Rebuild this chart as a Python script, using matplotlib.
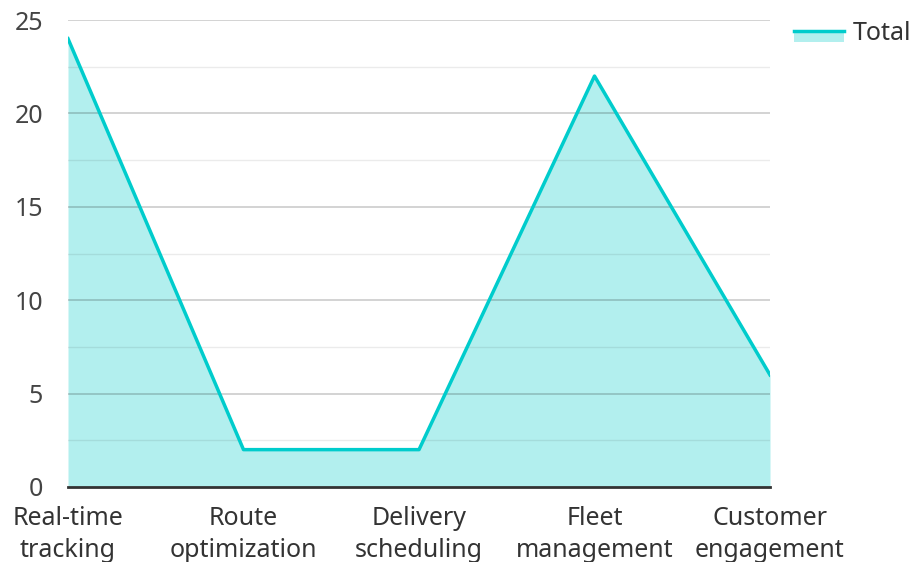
import matplotlib
matplotlib.use("Agg")
import matplotlib.pyplot as plt
from matplotlib.patches import Rectangle
from matplotlib.lines import Line2D
from matplotlib.legend_handler import HandlerBase

categories = ["Real-time\ntracking", "Route\noptimization", "Delivery\nscheduling", "Fleet\nmanagement", "Customer\nengagement"]
values = [24, 2, 2, 22, 6]
series_name = "Total"

plt.rcParams['font.family'] = ['Noto Sans', 'DejaVu Sans']

fig = plt.figure(figsize=(9.11, 5.62), dpi=100)
ax = fig.add_axes([68/911, 1-487/562, (770-68)/911, (487-20)/562])

x = list(range(len(categories)))
line_color = "#00CCCC"
fill_color = "#B2EFEE"

ax.fill_between(x, values, 0, color=fill_color, zorder=1, linewidth=0)
for yv in [2.5, 7.5, 12.5, 17.5, 22.5]:
    ax.axhline(yv, color="#000000", alpha=0.08, linewidth=1, zorder=2)
for yv in [5, 10, 15, 20, 25]:
    ax.axhline(yv, color="#000000", alpha=0.2, linewidth=1.2, zorder=2)
ax.plot(x, values, color=line_color, linewidth=2.5, zorder=3)

ax.set_xlim(0, len(categories)-1)
ax.set_ylim(0, 25)
ax.set_yticks([0, 5, 10, 15, 20, 25])
ax.set_xticks(x)
ax.set_xticklabels(categories, fontsize=18, color="#333333", linespacing=1.34)
ax.tick_params(axis='y', labelsize=18, labelcolor="#444444", length=0, pad=18)
ax.tick_params(axis='x', length=0, pad=14)
for s in ['top', 'right', 'left']:
    ax.spines[s].set_visible(False)
ax.spines['bottom'].set_color("#333333")
ax.spines['bottom'].set_linewidth(2)
ax.spines['bottom'].set_zorder(4)


class AreaHandler(HandlerBase):
    def create_artists(self, legend, orig_handle, xdescent, ydescent, width, height, fontsize, trans):
        y0 = -ydescent
        rect = Rectangle((-xdescent, y0), width, height * 0.5, facecolor=fill_color,
                         edgecolor='none', transform=trans)
        ln = Line2D([-xdescent, -xdescent + width], [y0 + height * 0.5, y0 + height * 0.5],
                    color=line_color, linewidth=2.5, transform=trans)
        return [rect, ln]


handle = Line2D([], [], color=line_color)
leg = fig.legend([handle], [series_name], loc='upper left', bbox_to_anchor=(794/911, 1-20/562),
                 frameon=False, fontsize=18, handlelength=2.0, handleheight=1.0,
                 handletextpad=0.35, borderpad=0, borderaxespad=0,
                 handler_map={Line2D: AreaHandler()})
for t in leg.get_texts():
    t.set_color("#333333")

fig.savefig("out.png", dpi=100)
